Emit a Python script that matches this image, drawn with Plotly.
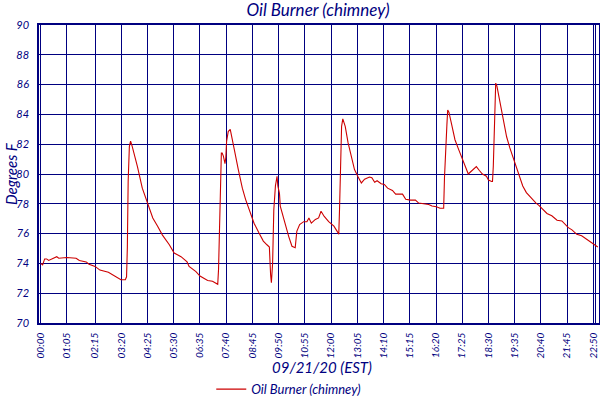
import plotly.graph_objects as go

# readings off the chimney probe, 09/21/20 (time, degrees F)
times = ["00:00", "00:05", "00:10", "00:15", "00:20", "00:30", "00:40", "00:45", "01:05",
         "01:28", "01:36", "01:53", "02:00", "02:15", "02:27", "02:48", "03:05", "03:19",
         "03:30", "03:33", "03:35", "03:37", "03:40", "03:43", "03:47", "04:00", "04:12",
         "04:25", "04:38", "04:50", "05:02", "05:19", "05:31", "05:48", "06:03", "06:08",
         "06:25", "06:35", "06:54", "07:06", "07:19", "07:21", "07:23", "07:24", "07:27",
         "07:28", "07:30", "07:33", "07:37", "07:39", "07:41", "07:45", "07:50", "07:53",
         "08:00", "08:10", "08:20", "08:28", "08:39", "08:49", "09:01", "09:12", "09:21",
         "09:27", "09:30", "09:32", "09:35", "09:38", "09:42", "09:46", "09:48", "09:52",
         "09:54", "10:01", "10:09", "10:15", "10:23", "10:31", "10:35", "10:42", "10:52",
         "11:00", "11:05", "11:11", "11:21", "11:29", "11:35", "11:43", "11:54", "12:07",
         "12:15", "12:19", "12:21", "12:23", "12:26", "12:29", "12:32", "12:35", "12:42",
         "12:50", "12:58", "13:07", "13:15", "13:23", "13:35", "13:41", "13:48", "13:54",
         "14:04", "14:12", "14:20", "14:32", "14:40", "14:57", "15:05", "15:17", "15:29",
         "15:37", "15:50", "16:02", "16:10", "16:21", "16:30", "16:39", "16:41", "16:44",
         "16:47", "16:49", "16:52", "16:59", "17:07", "17:16", "17:24", "17:32", "17:36",
         "17:40", "17:44", "17:52", "18:00", "18:07", "18:15", "18:25", "18:30", "18:38",
         "18:40", "18:42", "18:44", "18:46", "18:48", "18:51", "18:56", "19:02", "19:08",
         "19:15", "19:23", "19:31", "19:39", "19:47", "19:55", "20:04", "20:12", "20:20",
         "20:28", "20:35", "20:47", "20:55", "21:07", "21:20", "21:32", "21:40", "21:48",
         "21:57", "22:09", "22:21", "22:34", "22:46", "22:55", "23:01"]
temps = [74.0, 73.9, 74.3, 74.3, 74.2, 74.3, 74.45, 74.35, 74.4,
         74.35, 74.2, 74.1, 73.95, 73.8, 73.55, 73.4, 73.15, 72.9,
         72.9, 73.1, 75.1, 79.5, 81.85, 82.2, 81.85, 80.5, 79.05,
         78.0, 77.05, 76.5, 75.9, 75.25, 74.7, 74.45, 74.1, 73.8,
         73.45, 73.15, 72.85, 72.8, 72.6, 73.6, 75.6, 77.8, 80.2,
         81.4, 81.4, 81.2, 80.7, 81.1, 82.2, 82.85, 83.0, 82.65,
         81.65, 80.3, 79.05, 78.3, 77.4, 76.7, 76.05, 75.5, 75.25,
         75.1, 73.25, 72.7, 74.0, 77.6, 79.2, 79.85, 79.2, 78.7,
         77.85, 77.15, 76.25, 75.8, 75.15, 75.05, 76.15, 76.6, 76.8,
         76.8, 77.05, 76.7, 76.95, 77.05, 77.5, 77.15, 76.8, 76.5,
         76.15, 75.95, 77.75, 80.95, 83.2, 83.7, 83.5, 83.2, 82.1,
         81.2, 80.3, 79.8, 79.4, 79.65, 79.8, 79.75, 79.45, 79.55,
         79.35, 79.3, 79.05, 78.9, 78.65, 78.65, 78.3, 78.25, 78.25,
         78.05, 78.0, 77.95, 77.85, 77.8, 77.7, 77.7, 79.75, 82.1,
         83.3, 84.3, 84.15, 83.3, 82.3, 81.65, 81.1, 80.5, 80.2,
         80.0, 80.1, 80.3, 80.5, 80.25, 80.0, 79.85, 79.6, 79.5,
         79.5, 80.5, 82.1, 84.1, 86.1, 85.9, 85.2, 84.3, 83.4,
         82.5, 81.75, 81.1, 80.4, 79.85, 79.2, 78.75, 78.5, 78.3,
         78.05, 77.9, 77.6, 77.35, 77.2, 76.9, 76.85, 76.6, 76.4,
         76.25, 75.95, 75.85, 75.6, 75.4, 75.2, 75.1]

tick_labels = ["00:00", "01:05", "02:15", "03:20", "04:25", "05:30", "06:35", "07:40",
               "08:45", "09:50", "10:55", "12:00", "13:05", "14:10", "15:15", "16:20",
               "17:25", "18:30", "19:35", "20:40", "21:45", "22:50", "22:55"]
y_ticks = [70, 72, 74, 76, 78, 80, 82, 84, 86, 88, 90]

series_name = "Oil Burner (chimney)"
navy = "#000080"
font_family = "Lato, 'Open Sans', sans-serif"


def to_minutes(hhmm):
    h, m = hhmm.split(":")
    return int(h) * 60 + int(m)


x_min = [to_minutes(t) for t in times]
tick_pos = [to_minutes(t) for t in tick_labels]

fig = go.Figure()
fig.add_trace(go.Scatter(x=x_min, y=temps, mode="lines", name=series_name,
                         line=dict(color="#CC0000", width=1.1)))

fig.update_layout(
    width=600, height=400,
    margin=dict(l=39, r=1, t=25, b=77, autoexpand=False),
    paper_bgcolor="white", plot_bgcolor="white",
    font=dict(family=font_family, color=navy, style="italic"),
    title=dict(text=series_name, x=0.53, xanchor="center", y=0.975, yanchor="middle",
               font=dict(size=17, color=navy, style="italic")),
    showlegend=True,
    legend=dict(orientation="h", x=0.446, xanchor="center", y=-0.222, yanchor="middle",
                font=dict(size=13, color=navy, style="italic"), itemwidth=30),
)

fig.update_xaxes(range=[-4, 1384], tickvals=tick_pos, ticktext=tick_labels,
                 tickangle=-90, tickfont=dict(size=10, color=navy),
                 showgrid=True, gridcolor=navy, gridwidth=1.3,
                 showline=True, linecolor=navy, linewidth=1.5, mirror=True,
                 zeroline=False, ticks="", ticklabelstandoff=4, automargin=False)
fig.update_yaxes(range=[70, 90], tickvals=y_ticks,
                 tickfont=dict(size=11, color=navy),
                 showgrid=True, gridcolor=navy, gridwidth=1.3,
                 showline=True, linecolor=navy, linewidth=1.5, mirror=True,
                 zeroline=False, ticks="", ticklabelstandoff=6, automargin=False)

# axis titles placed like the original
fig.add_annotation(text="09/21/20 (EST)", xref="paper", yref="paper",
                   x=0.505, y=-0.148, xanchor="center", yanchor="middle",
                   showarrow=False, font=dict(size=15, color=navy, style="italic"))
fig.add_annotation(text="Degrees F", xref="paper", yref="paper",
                   x=-0.05, y=0.5, xanchor="center", yanchor="middle", textangle=-90,
                   showarrow=False, font=dict(size=15, color=navy, style="italic"))

# page body has a default margin; drop it so the 600x400 figure sits at the corner
fig.write_html("out.html", config={"displayModeBar": False},
               post_script="document.body.style.margin='0';")
